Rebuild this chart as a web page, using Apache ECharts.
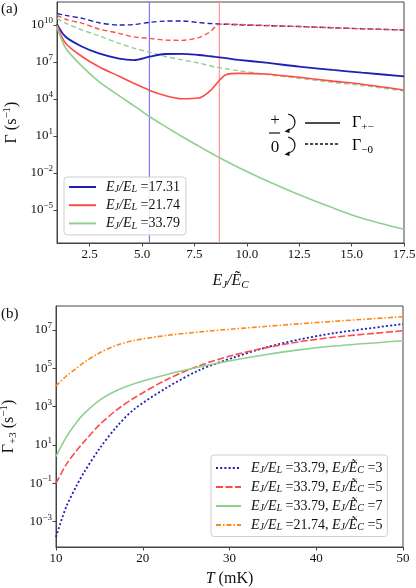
<!DOCTYPE html>
<html>
<head>
<meta charset="utf-8">
<script src="https://cdn.jsdelivr.net/npm/echarts@6/dist/echarts.min.js"></script>
<style>
  html, body { margin: 0; padding: 0; background: #fff; }
  #chart { width: 416px; height: 588px; }
</style>
</head>
<body>
<div id="chart"></div>
<script>
// panel (a): x = E_J / E~_C, values are log10 of the rate (s^-1)
const aX = [0.94, 1.35, 2.15, 2.94, 3.9, 4.6, 5.36, 6.1, 6.9, 7.7, 8.2, 8.5, 8.7, 9.0, 9.6, 10.9, 12.5, 14.1, 15.5, 17.5]
const aBlueSolid = [10.08, 9.05, 8.24, 7.70, 7.28, 7.16, 7.43, 7.65, 7.66, 7.57, 7.48, 7.42, 7.38, 7.32, 7.18, 6.95, 6.62, 6.36, 6.14, 5.84]
const aBlueDash = [10.95, 10.78, 10.54, 10.19, 10.0, 10.04, 10.22, 10.32, 10.33, 10.2, 10.13, 10.1, 10.08, 10.06, 10.02, 9.95, 9.88, 9.78, 9.7, 9.6]
const aRedSolid = [10.0, 8.52, 7.43, 6.62, 5.85, 5.28, 4.70, 4.28, 4.02, 4.08, 4.59, 5.13, 5.54, 5.97, 6.08, 6.03, 5.76, 5.45, 5.2, 4.73]
const aRedDash = [10.81, 10.47, 10.14, 9.68, 9.33, 9.04, 8.92, 8.78, 8.76, 8.98, 9.4, 9.85, 10.06, 10.08, 10.05, 9.97, 9.88, 9.78, 9.7, 9.6]
const aGreenSolid = [9.86, 8.14, 6.63, 5.42, 4.27, 3.47, 2.56, 1.78, 0.96, 0.18, -0.30, -0.58, -0.76, -1.03, -1.55, -2.59, -3.77, -4.83, -5.67, -6.57]
const aGreenDash = [10.54, 10.16, 9.59, 9.13, 8.52, 8.13, 7.79, 7.45, 7.18, 6.92, 6.72, 6.6, 6.55, 6.45, 6.3, 6.0, 5.68, 5.35, 5.1, 4.65]
const aMarkBlue = 5.35
const aMarkRed = 8.69
const aXTicks = [2.5, 5, 7.5, 10, 12.5, 15, 17.5]
const aYTicks = [1e-5, 1e-2, 1e1, 1e4, 1e7, 1e10]
const aYRange = [-7.68, 11.87]

// panel (b): x = T (mK), values are log10 of Gamma_+3 (s^-1)
const bT = [10, 11.2, 12.4, 13.2, 15, 17, 19, 22.8, 26.6, 30.4, 34.3, 38, 42, 50]
const bEC3 = [-3.8, -2.2, -1.1, -0.45, 0.8, 1.96, 2.86, 4.0, 4.92, 5.55, 6.1, 6.5, 6.83, 7.31]
const bEC5 = [-1.0, 0.0, 0.72, 1.15, 2.05, 2.83, 3.45, 4.42, 5.15, 5.68, 6.08, 6.38, 6.62, 6.96]
const bEC7 = [0.4, 1.42, 2.2, 2.62, 3.33, 3.84, 4.2, 4.68, 5.08, 5.42, 5.72, 5.96, 6.16, 6.44]
const bEL21 = [4.08, 4.6, 5.02, 5.3, 5.8, 6.2, 6.45, 6.72, 6.9, 7.05, 7.19, 7.32, 7.45, 7.69]
const bXTicks = [10, 20, 30, 40, 50]
const bYTicks = [1e-3, 1e-1, 1e1, 1e3, 1e5, 1e7]
const bYRange = [-4.32, 8.25]

const serif = "'Liberation Serif', 'DejaVu Serif', serif"
const ink = '#111'
const spine = '#444'
const blue = '#1f1fb4'
const red = '#ff4a4a'
const green = '#8fd08f'
const orange = '#ff8617'

const pts = (xs, logs) => xs.map((x, i) => [x, Math.pow(10, logs[i])])

const rich = {
  b: { fontFamily: serif, fontSize: 13, color: ink, lineHeight: 18 },
  s: { fontFamily: serif, fontSize: 9, color: ink, verticalAlign: 'top', lineHeight: 9 },
  n: { fontFamily: serif, fontSize: 16, color: ink, lineHeight: 20 },
  ni: { fontFamily: serif, fontSize: 16, fontStyle: 'italic', color: ink, lineHeight: 20 },
  sup: { fontFamily: serif, fontSize: 11, color: ink, verticalAlign: 'top', lineHeight: 11 },
  sub: { fontFamily: serif, fontSize: 11, fontStyle: 'italic', color: ink, verticalAlign: 'bottom', lineHeight: 11 },
  subn: { fontFamily: serif, fontSize: 11, color: ink, verticalAlign: 'bottom', lineHeight: 11 },
  li: { fontFamily: serif, fontSize: 14, fontStyle: 'italic', color: ink, lineHeight: 15 },
  ln: { fontFamily: serif, fontSize: 14, color: ink, lineHeight: 15 },
  ls: { fontFamily: serif, fontSize: 10, fontStyle: 'italic', color: ink, verticalAlign: 'bottom', lineHeight: 10 },
  g: { width: 5 },
}

const pow10 = v => {
  const e = Math.round(Math.log10(v))
  return '{b|10}{s|' + (e < 0 ? '−' + (-e) : e) + '}'
}

const ejel = v => '{li|E}{ls|J}{li|/E}{ls|L}{ln| =' + v + '}'
const ejec = v => '{li|E}{ls|J}{li|/Ẽ}{ls|C}{ln| =' + v + '}'
const legendText = {
  a17: '{g| }' + ejel('17.31'), a21: '{g| }' + ejel('21.74'), a33: '{g| }' + ejel('33.79'),
  b3: '{g| }' + ejel('33.79') + '{ln|, }' + ejec(3),
  b5: '{g| }' + ejel('33.79') + '{ln|, }' + ejec(5),
  b7: '{g| }' + ejel('33.79') + '{ln|, }' + ejec(7),
  b21: '{g| }' + ejel('21.74') + '{ln|, }' + ejec(5),
}

function xAxis(grid, min, max, ticks, fmt, name, gap) {
  return {
    type: 'value', gridIndex: grid, min, max,
    axisLine: { show: true, lineStyle: { color: spine, width: 1 } },
    axisTick: { show: true, length: 3.5, customValues: ticks, lineStyle: { color: spine } },
    axisLabel: { customValues: ticks, formatter: fmt, fontFamily: serif, fontSize: 13, color: ink, margin: 5 },
    splitLine: { show: false },
    name, nameLocation: 'middle', nameGap: gap, nameTextStyle: { rich },
  }
}

function yAxis(grid, range, ticks, name) {
  return {
    type: 'log', logBase: 10, gridIndex: grid, min: Math.pow(10, range[0]), max: Math.pow(10, range[1]),
    axisLine: { show: true, lineStyle: { color: spine, width: 1 } },
    axisTick: { show: true, length: 3.5, customValues: ticks, lineStyle: { color: spine } },
    minorTick: { show: false },
    axisLabel: { customValues: ticks, formatter: pow10, rich, margin: 4 },
    splitLine: { show: false },
    name, nameLocation: 'middle', nameRotate: 90, nameGap: 35, nameTextStyle: { rich },
  }
}

function line(name, xi, yi, xs, logs, color, type, width) {
  return {
    name, type: 'line', xAxisIndex: xi, yAxisIndex: yi, data: pts(xs, logs),
    symbol: 'none', showSymbol: false, smooth: 0.3,
    lineStyle: { color, width, type }, itemStyle: { color },
  }
}

const legendBase = {
  orient: 'vertical', itemWidth: 27, itemHeight: 15,
  backgroundColor: 'rgba(255,255,255,0.85)', borderColor: '#cfcfcf', borderWidth: 1, borderRadius: 3,
  itemStyle: { opacity: 0, borderWidth: 0 },
  formatter: n => legendText[n], textStyle: { rich },
  selectedMode: false,
}

const chart = echarts.init(document.getElementById('chart'), null, { renderer: 'canvas' })

const seriesA = [
  // the two axvlines, spanning the whole y range
  line('markBlue', 0, 0, [aMarkBlue, aMarkBlue], aYRange, '#7d7df2', 'solid', 1.2),
  line('markRed', 0, 0, [aMarkRed, aMarkRed], aYRange, '#ff9898', 'solid', 1.2),
  line('a17d', 0, 0, aX, aBlueDash, blue, [5, 3], 1.4),
  line('a21d', 0, 0, aX, aRedDash, red, [5, 3], 1.4),
  line('a33d', 0, 0, aX, aGreenDash, green, [5, 3], 1.4),
  line('a17', 0, 0, aX, aBlueSolid, blue, 'solid', 1.8),
  line('a21', 0, 0, aX, aRedSolid, red, 'solid', 1.6),
  line('a33', 0, 0, aX, aGreenSolid, green, 'solid', 1.6),
]

const seriesB = [
  line('b3', 1, 1, bT, bEC3, blue, [2, 2.2], 1.8),
  line('b5', 1, 1, bT, bEC5, red, [7, 2.5], 1.6),
  line('b7', 1, 1, bT, bEC7, green, 'solid', 1.6),
  line('b21', 1, 1, bT, bEL21, orange, [5, 2, 1.5, 2], 1.6),
]

chart.setOption({
  animation: false,
  backgroundColor: '#fff',
  grid: [
    { left: 57, top: 2, width: 347, height: 241, show: true, borderColor: spine, borderWidth: 1, containLabel: false, outerBoundsMode: 'none' },
    { left: 56, top: 306, width: 347, height: 241, show: true, borderColor: spine, borderWidth: 1, containLabel: false, outerBoundsMode: 'none' },
  ],
  xAxis: [
    xAxis(0, 0.94, 17.5, aXTicks, v => v.toFixed(1), '{ni|E}{sub|J}{ni|/Ẽ}{sub|C}', 28),
    xAxis(1, 10, 50, bXTicks, v => String(v), '{ni|T}{n| (mK)}', 22),
  ],
  yAxis: [
    yAxis(0, aYRange, aYTicks, '{n|Γ (s}{sup|−1}{n|)}'),
    yAxis(1, bYRange, bYTicks, '{n|Γ}{subn|+3}{n| (s}{sup|−1}{n|)}'),
  ],
  legend: [
    Object.assign({}, legendBase, { left: 64, top: 177, padding: [3, 6, 4, 4], itemGap: 3.7, data: ['a17', 'a21', 'a33'] }),
    Object.assign({}, legendBase, { left: 211, top: 455, itemWidth: 25, padding: [6, 5, 4, 4], itemGap: 4.5, data: ['b3', 'b5', 'b7', 'b21'] }),
  ],
  graphic: [
    { type: 'text', x: 1, y: 2, style: { text: '(a)', font: '15px ' + serif, fill: ink } },
    { type: 'text', x: 1, y: 307, style: { text: '(b)', font: '15px ' + serif, fill: ink } },
    // state diagram + line-style key inside panel (a)
    { type: 'text', x: 275, y: 121, style: { text: '+', font: '17px ' + serif, fill: ink, align: 'center', verticalAlign: 'middle' } },
    { type: 'line', shape: { x1: 269, y1: 133, x2: 280, y2: 133 }, style: { stroke: ink, lineWidth: 1.2 } },
    { type: 'text', x: 275, y: 148, style: { text: '0', font: '17px ' + serif, fill: ink, align: 'center', verticalAlign: 'middle' } },
    { type: 'arc', shape: { cx: 287, cy: 122, r: 8, startAngle: -Math.PI * 0.45, endAngle: Math.PI * 0.45, clockwise: true }, style: { stroke: ink, fill: null, lineWidth: 1.2 } },
    { type: 'polygon', shape: { points: [[284.5, 131.5], [289.5, 128.3], [289.5, 133]] }, style: { fill: ink } },
    { type: 'arc', shape: { cx: 287, cy: 145, r: 8, startAngle: -Math.PI * 0.45, endAngle: Math.PI * 0.45, clockwise: true }, style: { stroke: ink, fill: null, lineWidth: 1.2 } },
    { type: 'polygon', shape: { points: [[284.5, 154.5], [289.5, 151.3], [289.5, 156]] }, style: { fill: ink } },
    { type: 'line', shape: { x1: 305, y1: 123, x2: 340, y2: 123 }, style: { stroke: ink, lineWidth: 1.3 } },
    { type: 'line', shape: { x1: 305, y1: 144, x2: 340, y2: 144 }, style: { stroke: ink, lineWidth: 1.3, lineDash: [3, 2] } },
    { type: 'text', x: 352, y: 123, style: { text: '{n|Γ}{subn|+−}', rich, verticalAlign: 'middle' } },
    { type: 'text', x: 352, y: 146, style: { text: '{n|Γ}{subn|−0}', rich, verticalAlign: 'middle' } },
  ],
  series: seriesA.concat(seriesB),
})
</script>
</body>
</html>
